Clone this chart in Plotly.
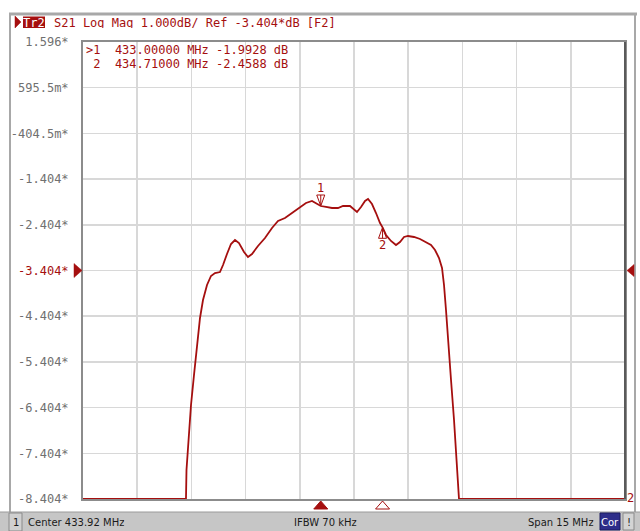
import plotly.graph_objects as go

# ---------------- data ----------------
freq_mhz = [426.42, 429.27, 429.284, 429.326, 429.409, 429.492, 429.575, 429.658, 429.741, 429.852,
            429.962, 430.073, 430.211, 430.295, 430.405, 430.516, 430.627, 430.737, 430.876, 430.986,
            431.097, 431.263, 431.457, 431.651, 431.817, 432.010, 432.204, 432.425, 432.591, 432.758,
            432.868, 433.000, 433.145, 433.311, 433.477, 433.616, 433.809, 433.920, 434.003, 434.114,
            434.225, 434.308, 434.418, 434.529, 434.640, 434.710, 434.806, 434.944, 435.082, 435.193,
            435.304, 435.415, 435.581, 435.747, 435.913, 436.051, 436.162, 436.273, 436.356, 436.411,
            436.466, 436.521, 436.605, 436.688, 436.743, 436.798, 436.826, 441.42]
s21_db = [-8.404, -8.404, -7.769, -7.222, -6.347, -5.691, -5.034, -4.443, -4.050, -3.721,
          -3.524, -3.459, -3.437, -3.284, -3.043, -2.824, -2.737, -2.802, -3.000, -3.109,
          -3.043, -2.868, -2.693, -2.474, -2.321, -2.255, -2.146, -2.014, -1.927, -1.883,
          -1.927, -1.9928, -2.014, -2.036, -2.036, -1.993, -1.993, -2.058, -2.124, -2.014,
          -1.883, -1.840, -1.949, -2.146, -2.365, -2.4588, -2.627, -2.758, -2.846, -2.780,
          -2.671, -2.649, -2.671, -2.715, -2.780, -2.846, -2.955, -3.130, -3.349, -3.721,
          -4.268, -4.925, -5.800, -6.675, -7.332, -7.988, -8.404, -8.404]

marker_ids = [1, 2]
marker_freq = [433.00000, 434.71000]
marker_db = [-1.9928, -2.4588]

center_mhz = 433.92
span_mhz = 15.0
ref_level = -3.404
scale_db = 1.0
y_ticklabels = ["-8.404*", "-7.404*", "-6.404*", "-5.404*", "-4.404*", "-3.404*",
                "-2.404*", "-1.404*", "-404.5m*", "595.5m*", "1.596*"]
header_text = "S21 Log Mag 1.000dB/ Ref -3.404*dB [F2]"
status_center = "Center 433.92 MHz"
status_ifbw = "IFBW 70 kHz"
status_span = "Span 15 MHz"

# ---------------- styling ----------------
RED = "#a50f0f"
GRID = "#d8d8d8"
MONO = "DejaVu Sans Mono"
W, H = 640, 531
PL, PR, PT, PB = 83, 625, 42, 499


def px(x):
    return (x - PL) / (PR - PL)


def py(y):
    return (PB - y) / (PB - PT)


def nb(s):
    return s.replace(" ", "\u00a0")


x_lo = center_mhz - span_mhz / 2
x_hi = center_mhz + span_mhz / 2
y_lo = ref_level - 5 * scale_db
y_hi = ref_level + 5 * scale_db
y_tickvals = [y_lo + k * scale_db for k in range(11)]
y_ticktext = [(f'<span style="color:{RED}">{t}</span>' if abs(v - ref_level) < 1e-6 else t)
              for v, t in zip(y_tickvals, y_ticklabels)]

fig = go.Figure()
fig.add_trace(go.Scatter(x=freq_mhz, y=s21_db, mode="lines",
                         line=dict(color=RED, width=1.8), cliponaxis=False,
                         hoverinfo="skip", showlegend=False))

shapes = []
annotations = []

# outer window frame
shapes.append(dict(type="line", xref="paper", yref="paper", x0=px(9), x1=px(637), y0=py(14), y1=py(14),
                   line=dict(color="#a8a8a8", width=3)))
shapes.append(dict(type="line", xref="paper", yref="paper", x0=px(10), x1=px(10), y0=py(14), y1=py(512),
                   line=dict(color="#a8a8a8", width=2)))
shapes.append(dict(type="line", xref="paper", yref="paper", x0=px(635), x1=px(635), y0=py(14), y1=py(512),
                   line=dict(color="#a8a8a8", width=2)))
# darker right edge of graticule
shapes.append(dict(type="line", xref="paper", yref="paper", x0=1, x1=1, y0=0, y1=1,
                   line=dict(color="#5a5a5a", width=2)))

# status bar
shapes.append(dict(type="rect", xref="paper", yref="paper", x0=px(0), x1=px(640), y0=py(512), y1=py(531),
                   fillcolor="#c6c6c6", line=dict(width=0), layer="below"))
shapes.append(dict(type="line", xref="paper", yref="paper", x0=px(0), x1=px(640), y0=py(512), y1=py(512),
                   line=dict(color="#9a9a9a", width=1)))
shapes.append(dict(type="rect", xref="paper", yref="paper", x0=px(9), x1=px(22), y0=py(513), y1=py(531),
                   fillcolor="#d0d0d0", line=dict(color="#8a8a8a", width=1)))
shapes.append(dict(type="rect", xref="paper", yref="paper", x0=px(600), x1=px(620), y0=py(513), y1=py(530),
                   fillcolor="#2e2e8a", line=dict(color="#1c1c60", width=1)))
shapes.append(dict(type="rect", xref="paper", yref="paper", x0=px(623), x1=px(634), y0=py(513), y1=py(530),
                   fillcolor="#d4d4d4", line=dict(color="#8a8a8a", width=1)))

# header: active-trace triangle and "Tr2" box
shapes.append(dict(type="path", xref="paper", yref="paper",
                   path=f"M{px(15)},{py(16)} L{px(21)},{py(22)} L{px(15)},{py(28)} Z",
                   fillcolor=RED, line=dict(color=RED, width=0.5)))
shapes.append(dict(type="rect", xref="paper", yref="paper", x0=px(23), x1=px(45), y0=py(16.5), y1=py(28),
                   fillcolor=RED, line=dict(width=0)))
annotations.append(dict(xref="paper", yref="paper", x=px(34), y=py(22.5), text="Tr2", showarrow=False,
                        xanchor="center", yanchor="middle", height=11,
                        font=dict(family=MONO, size=12, color="white")))
annotations.append(dict(xref="paper", yref="paper", x=px(52), y=py(22.5), text=nb(header_text), showarrow=False,
                        xanchor="left", yanchor="middle", height=11,
                        font=dict(family=MONO, size=12, color=RED)))

# marker table
for k, (mid, f, v) in enumerate(zip(marker_ids, marker_freq, marker_db)):
    prefix = ">" if k == 0 else " "
    line_txt = f"{prefix}{mid}  {f:.5f} MHz {v:.4f} dB"
    annotations.append(dict(xref="paper", yref="paper", x=px(85), y=py(50.2 + 13.4 * k), text=nb(line_txt),
                            showarrow=False, xanchor="left", yanchor="middle", height=10, borderpad=0,
                            font=dict(family=MONO, size=12, color=RED)))

# markers on the trace and on the frequency axis
for k, (mid, f, v) in enumerate(zip(marker_ids, marker_freq, marker_db)):
    if k == 0:
        tri = "M0,0 L-4,11 L4,11 Z M0,1 L0,11"
        annotations.append(dict(xref="x", yref="y", x=f, y=v, text=str(mid), showarrow=False,
                                xanchor="center", yanchor="bottom", yshift=9,
                                font=dict(family=MONO, size=12, color=RED)))
        axis_fill = RED
    else:
        tri = "M0,0 L-4,-11 L4,-11 Z M0,-1 L0,-11"
        annotations.append(dict(xref="x", yref="y", x=f, y=v, text=str(mid), showarrow=False,
                                xanchor="center", yanchor="top", yshift=-9,
                                font=dict(family=MONO, size=12, color=RED)))
        axis_fill = "white"
    shapes.append(dict(type="path", xref="x", yref="y", xsizemode="pixel", ysizemode="pixel",
                       xanchor=f, yanchor=v, path=tri, fillcolor="rgba(0,0,0,0)",
                       line=dict(color=RED, width=1)))
    shapes.append(dict(type="path", xref="x", yref="paper", xsizemode="pixel", ysizemode="pixel",
                       xanchor=f, yanchor=0, path="M0,-2 L-7,-10 L7,-10 Z",
                       fillcolor=axis_fill, line=dict(color=RED, width=1)))

# reference level indicators
shapes.append(dict(type="path", xref="paper", yref="y", xsizemode="pixel", ysizemode="pixel",
                   xanchor=0, yanchor=ref_level, path="M-1,0 L-9,7 L-9,-7 Z",
                   fillcolor=RED, line=dict(color=RED, width=0.5)))
shapes.append(dict(type="path", xref="paper", yref="y", xsizemode="pixel", ysizemode="pixel",
                   xanchor=1, yanchor=ref_level, path="M2,0 L9,6 L9,-6 Z",
                   fillcolor=RED, line=dict(color=RED, width=0.5)))

# trace number at the bottom right
annotations.append(dict(xref="paper", yref="paper", x=px(630), y=py(497), text="2", showarrow=False,
                        xanchor="center", yanchor="middle", height=11,
                        font=dict(family=MONO, size=12, color=RED)))

# status bar texts
SB = dict(family="DejaVu Sans", size=10, color="#1a1a1a")
annotations.append(dict(xref="paper", yref="paper", x=px(15.5), y=py(522), text="1", showarrow=False,
                        xanchor="center", yanchor="middle", height=12, font=SB))
annotations.append(dict(xref="paper", yref="paper", x=px(26), y=py(522), text=status_center, showarrow=False,
                        xanchor="left", yanchor="middle", height=12, font=SB))
annotations.append(dict(xref="paper", yref="paper", x=px(325), y=py(522), text=status_ifbw, showarrow=False,
                        xanchor="center", yanchor="middle", height=12, font=SB))
annotations.append(dict(xref="paper", yref="paper", x=px(596), y=py(522), text=status_span, showarrow=False,
                        xanchor="right", yanchor="middle", height=12, font=SB))
annotations.append(dict(xref="paper", yref="paper", x=px(610), y=py(521.5), text="Cor", showarrow=False,
                        xanchor="center", yanchor="middle", height=12,
                        font=dict(family="DejaVu Sans", size=10, color="white")))
annotations.append(dict(xref="paper", yref="paper", x=px(628.5), y=py(521.5), text="!", showarrow=False,
                        xanchor="center", yanchor="middle", height=12, font=SB))

fig.update_layout(
    width=W, height=H, autosize=False,
    margin=dict(l=PL, r=W - PR, t=PT, b=H - PB, pad=0),
    paper_bgcolor="white", plot_bgcolor="white",
    showlegend=False,
    shapes=shapes, annotations=annotations,
    xaxis=dict(range=[x_lo, x_hi], tick0=x_lo, dtick=span_mhz / 10, showticklabels=False,
               showgrid=True, gridcolor=GRID, gridwidth=1.5, zeroline=False,
               showline=True, linecolor="#8c8c8c", linewidth=2, mirror=True, ticks="",
               layer="below traces", fixedrange=True),
    yaxis=dict(range=[y_lo - 0.0001, y_hi + 0.0001], tickmode="array", tickvals=y_tickvals, ticktext=y_ticktext,
               showgrid=True, gridcolor=GRID, gridwidth=1.5, zeroline=False,
               showline=True, linecolor="#8c8c8c", linewidth=2, mirror=True, ticks="",
               ticklabelstandoff=10, tickfont=dict(family=MONO, size=12, color="#707070"),
               layer="below traces", fixedrange=True),
)

fig.write_html("out.html", config={"displayModeBar": False, "staticPlot": True},
               post_script="document.body.style.margin='0';document.body.style.overflow='hidden';")
